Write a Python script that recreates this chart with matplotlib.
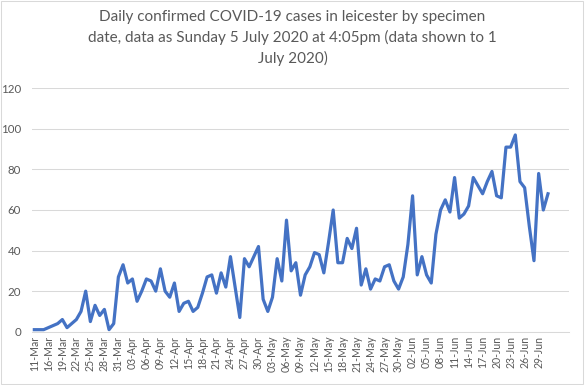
import matplotlib
matplotlib.use("Agg")
import matplotlib.pyplot as plt
from matplotlib.patches import Rectangle

title = ("Daily confirmed COVID-19 cases in leicester by specimen\n"
         "date, data as Sunday 5 July 2020 at 4:05pm (data shown to 1\n"
         "July 2020)")

cases = [1, 1, 1, 2, 3, 4, 6, 2, 4, 6, 10, 20, 5, 13, 8, 11, 1, 4, 27, 33,
         24, 26, 15, 20, 26, 25, 20, 31, 20, 17, 24, 10, 14, 15, 10, 12, 19, 27, 28, 19,
         29, 22, 37, 22, 7, 36, 32, 37, 42, 16, 10, 17, 36, 25, 55, 30, 34, 18, 28, 32,
         39, 38, 29, 44, 60, 34, 34, 46, 41, 51, 23, 31, 21, 26, 25, 32, 33, 25, 21, 27,
         43, 67, 28, 37, 28, 24, 48, 60, 65, 59, 76, 56, 58, 62, 76, 72, 68, 74, 79, 67,
         66, 91, 91, 97, 74, 71, 52, 35, 78, 60, 68]

tick_labels = ["11-Mar", "16-Mar", "19-Mar", "22-Mar", "25-Mar", "28-Mar", "31-Mar",
               "03-Apr", "06-Apr", "09-Apr", "12-Apr", "15-Apr", "18-Apr", "21-Apr",
               "24-Apr", "27-Apr", "30-Apr", "03-May", "06-May", "09-May", "12-May",
               "15-May", "18-May", "21-May", "24-May", "27-May", "30-May", "02-Jun",
               "05-Jun", "08-Jun", "11-Jun", "14-Jun", "17-Jun", "20-Jun", "23-Jun",
               "26-Jun", "29-Jun"]

y_ticks = [0, 20, 40, 60, 80, 100, 120]

plt.rcParams['font.family'] = ['Lato', 'DejaVu Sans']
grey = '#595959'

fig = plt.figure(figsize=(5.85, 3.85), dpi=100)
ax = fig.add_axes([32/585, (385-331.7)/385, (569-32)/585, (331.7-88.3)/385])

x = list(range(len(cases)))
ax.plot(x, cases, color='#4472C4', linewidth=2.3, solid_joinstyle='round')

ax.set_xlim(-0.5, 114.5)
ax.set_ylim(0, 120)
ax.set_yticks(y_ticks)
ax.set_yticklabels([str(v) for v in y_ticks], color=grey, fontsize=8.3)
ax.set_xticks(x[::3])
ax.set_xticklabels(tick_labels, rotation=90, color=grey, fontsize=7.6)
ax.tick_params(axis='both', length=0, pad=3)
ax.tick_params(axis='y', pad=8)
ax.grid(axis='y', color='#D9D9D9', linewidth=0.75)
ax.set_axisbelow(True)
for s in ['top', 'right', 'left']:
    ax.spines[s].set_visible(False)
ax.spines['bottom'].set_color('#D9D9D9')
ax.spines['bottom'].set_linewidth(0.75)

fig.text(0.5, 1 - 10/385, title, ha='center', va='top', fontsize=11,
         color=grey, linespacing=1.5)

fig.patches.append(Rectangle((0.002, 0.003), 0.995, 0.994, transform=fig.transFigure,
                             fill=False, edgecolor='#D9D9D9', linewidth=0.75))

fig.savefig('out.png', dpi=100)
